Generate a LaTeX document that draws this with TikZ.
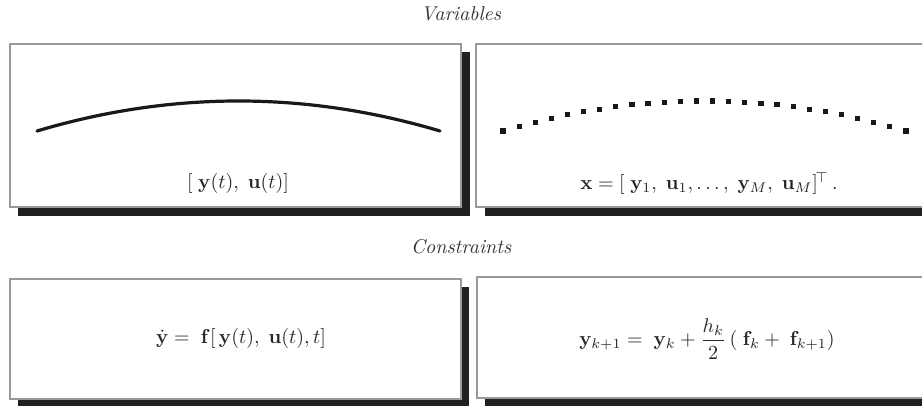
\documentclass[tikz,border=0pt]{standalone}
\usepackage{amsmath}
\begin{document}
\begin{tikzpicture}[x=0.5pt,y=-0.5pt,
  shadowbox/.style={fill=black!87,draw=none},
  panel/.style={fill=white,draw=black!40,line width=0.6pt},
  lbl/.style={font=\fontsize{10}{12}\selectfont,text=black!85,inner sep=0pt},
  heading/.style={font=\fontsize{10}{12}\selectfont\itshape,text=black!80,inner sep=0pt},
  curve/.style={line width=1.6pt,line cap=round,black!90},
  dot/.style={fill=black!90}]
\useasboundingbox (0,0) rectangle (922,406);
\clip (0,0) rectangle (922,406);
% top row panels
\fill[shadowbox] (18,52) rectangle (470,216);
\draw[panel] (10,44) rectangle (461,207);
\fill[shadowbox] (485,52) rectangle (945,216);
\draw[panel] (476,44) rectangle (935,207);
% bottom row panels
\fill[shadowbox] (18,287) rectangle (469,412);
\draw[panel] (10,279) rectangle (461,399);
\fill[shadowbox] (485,286) rectangle (945,412);
\draw[panel] (477,277) rectangle (935,398);
% headings
\node[heading] (var) at (461,14) {Variables};
\node[heading] (con) at (461,247) {Constraints};
% continuous curve
\draw[curve] plot[domain=37:440,samples=60,smooth] (\x,{101+30*((\x-238.5)/201.5)^2});
% discrete points
\foreach \i in {0,...,25}{
  \pgfmathsetmacro\xx{503+16.12*\i}
  \pgfmathsetmacro\yy{101+30*((\xx-704.5)/201.5)^2}
  \fill[dot] (\xx-2.6,\yy-2.6) rectangle (\xx+2.6,\yy+2.6);
}
% formulas
\node[lbl] (yu) at (238,184) {$[\;\mathbf{y}(t),\;\mathbf{u}(t)]$};
\node[lbl] (xv) at (709,184) {$\mathbf{x}=[\;\mathbf{y}_1,\;\mathbf{u}_1,\ldots,\;\mathbf{y}_M,\;\mathbf{u}_M]^{\!\top}\,.$};
\node[lbl] (ode) at (241,339) {$\dot{\mathbf{y}}=\;\mathbf{f}[\,\mathbf{y}(t),\;\mathbf{u}(t),t]$};
\node[lbl] (trap) at (707,339) {$\mathbf{y}_{k+1}=\;\mathbf{y}_k+\dfrac{h_k}{2}\,(\;\mathbf{f}_k+\;\mathbf{f}_{k+1})$};
\end{tikzpicture}
\end{document}
